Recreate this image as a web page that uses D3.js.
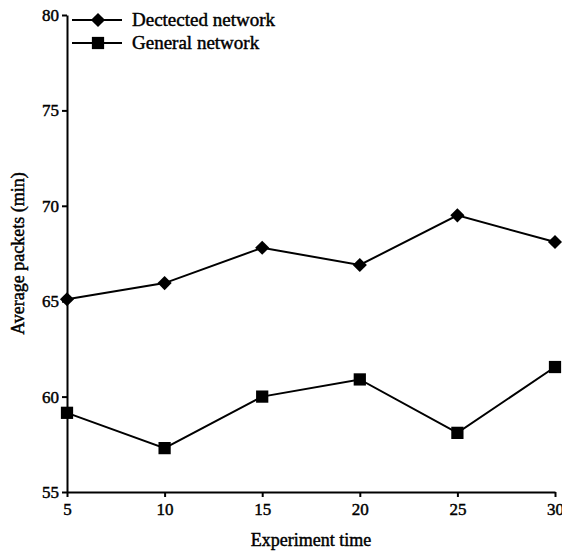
<!DOCTYPE html>
<html>
<head>
<meta charset="utf-8">
<script src="https://cdn.jsdelivr.net/npm/d3@7"></script>
<style>
  body { margin: 0; background: #fff; }
  text { font-family: "Liberation Serif", "Times New Roman", serif; fill: #000; stroke: #000; stroke-width: 0.45px; }
</style>
</head>
<body>
<svg id="chart"></svg>
<script>
var times = [5, 10, 15, 20, 25, 30]
var detected = [65.1, 65.95, 67.8, 66.9, 69.5, 68.1]
var general = [59.15, 57.3, 60.0, 60.9, 58.1, 61.55]
var yTicks = [55, 60, 65, 70, 75, 80]
var seriesNames = ["Dectected network", "General network"]

var dimensions = {
    width: 562,
    height: 558,
    margin: { top: 15, bottom: 66, right: 7, left: 67 }
}

var svg = d3.select("#chart")
    .attr("width", dimensions.width)
    .attr("height", dimensions.height)

var xScale = d3.scaleLinear()
    .domain([5, 30])
    .range([dimensions.margin.left, dimensions.width - dimensions.margin.right])

var yScale = d3.scaleLinear()
    .domain([55, 80])
    .range([dimensions.height - dimensions.margin.bottom, dimensions.margin.top])

var xAxisgen = d3.axisBottom(xScale).tickValues(times).tickSize(5).tickPadding(6).tickSizeOuter(0)
var yAxisgen = d3.axisLeft(yScale).tickValues(yTicks).tickSize(5).tickPadding(3).tickSizeOuter(0)

var xAxis = svg.append("g")
    .attr("transform", "translate(0," + (dimensions.height - dimensions.margin.bottom) + ")")
    .call(xAxisgen)

var yAxis = svg.append("g")
    .attr("transform", "translate(" + dimensions.margin.left + ",0)")
    .call(yAxisgen)

svg.selectAll(".domain, .tick line")
    .attr("stroke", "#000")
    .attr("stroke-width", 2)
svg.selectAll(".tick text")
    .style("font-family", "'Liberation Serif', serif")
    .style("font-size", "17px")
    .attr("fill", "#000")

// axis titles
svg.append("text")
    .attr("x", (xScale(5) + xScale(30)) / 2)
    .attr("y", 546)
    .attr("text-anchor", "middle")
    .style("font-size", "18px")
    .text("Experiment time")

svg.append("text")
    .attr("transform", "translate(24," + ((yScale(55) + yScale(80)) / 2) + ") rotate(-90)")
    .attr("text-anchor", "middle")
    .style("font-size", "18px")
    .text("Average packets (min)")

var line = d3.line()
    .x((d, i) => xScale(times[i]))
    .y(d => yScale(d))

var allSeries = [detected, general]
var symbolSizes = [100, 150]
var rotations = [45, 0]

allSeries.forEach(function (values, s) {
    svg.append("path")
        .datum(values)
        .attr("d", line)
        .attr("fill", "none")
        .attr("stroke", "#000")
        .attr("stroke-width", 2)

    svg.selectAll(".pt" + s)
        .data(values)
        .enter()
        .append("path")
        .attr("class", "pt" + s)
        .attr("d", d3.symbol().type(d3.symbolSquare).size(symbolSizes[s]))
        .attr("transform", (d, i) => "translate(" + xScale(times[i]) + "," + yScale(d) + ") rotate(" + rotations[s] + ")")
        .attr("fill", "#000")
})

// legend
var legend = svg.append("g")
seriesNames.forEach(function (name, s) {
    var ly = 20 + s * 23
    legend.append("line")
        .attr("x1", 72).attr("x2", 122)
        .attr("y1", ly).attr("y2", ly)
        .attr("stroke", "#000")
        .attr("stroke-width", 2)
    legend.append("path")
        .attr("d", d3.symbol().type(d3.symbolSquare).size(symbolSizes[s]))
        .attr("transform", "translate(98," + ly + ") rotate(" + rotations[s] + ")")
        .attr("fill", "#000")
    legend.append("text")
        .attr("x", 132)
        .attr("y", ly + 6)
        .style("font-size", "19px")
        .text(name)
})
</script>
</body>
</html>
